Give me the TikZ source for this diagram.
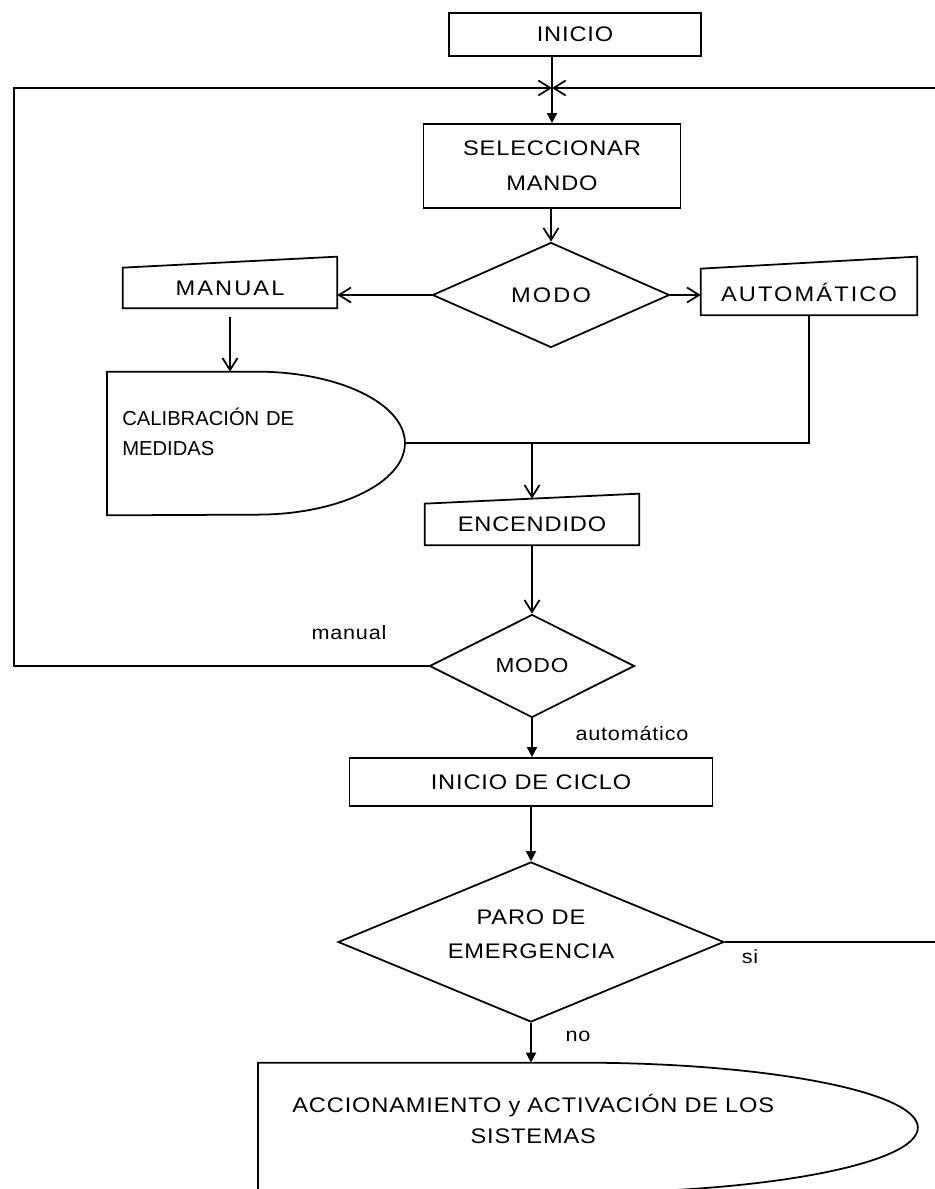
\documentclass[tikz,border=0pt]{standalone}
\usepackage{fontspec}
\setmainfont{Liberation Sans}
\newfontfamily\boxfont[FakeStretch=1.12,LetterSpace=4]{Liberation Sans}
\newfontfamily\widefont[FakeStretch=1.12,LetterSpace=10]{Liberation Sans}
\usetikzlibrary{shapes.geometric,arrows.meta}
\tikzset{
 box/.style={draw,line width=1pt,inner sep=0pt,align=center,font=\boxfont\fontsize{12}{20}\selectfont},
 slantbox/.style={inner sep=0pt,align=center,font=\widefont\fontsize{12}{14}\selectfont},
 decision/.style={diamond,draw,line width=1pt,inner sep=0pt,aspect=2.4,align=center,font=\boxfont\fontsize{12}{19}\selectfont},
 flow/.style={line width=1pt,-{Straight Barb[length=2.4mm,width=3mm]}},
 flowf/.style={line width=1pt,-{Triangle[length=2mm,width=2mm]}},
 tag/.style={font=\boxfont\fontsize{11}{13}\selectfont}
}
\begin{document}
\begin{tikzpicture}[x=0.02cm,y=-0.02cm]
\useasboundingbox (0,0) rectangle (935,1189);
\clip (0,0) rectangle (935,1189);
% boxes and decisions
\node[box,minimum width=5.04cm,minimum height=0.86cm] (inicio) at (575,34.5) {INICIO};
\node[box,minimum width=5.14cm,minimum height=1.68cm] (selec) at (552,166) {SELECCIONAR\\MANDO};
\node[decision,minimum width=4.74cm,minimum height=2.1cm,font=\widefont\fontsize{12}{14}\selectfont] (modoA) at (551,295) {MODO};
\node[slantbox,minimum width=4.28cm,minimum height=0.8cm] (manual) at (230,288) {MANUAL};
\node[slantbox,minimum width=4.32cm,minimum height=0.92cm] (auto) at (809,292) {AUTOMÁTICO};
\node[inner xsep=0.3cm,inner ysep=0pt,text width=4cm,align=left,minimum height=2.86cm,anchor=west,
 font=\fontsize{11.5}{17}\selectfont] (calib) at (107,443.5) {CALIBRACIÓN DE\\MEDIDAS\\[-4pt]\mbox{}};
\node[slantbox,font=\boxfont\fontsize{12}{14}\selectfont,minimum width=4.28cm,minimum height=0.82cm] (encend) at (532,524.5) {ENCENDIDO};
\node[decision,minimum width=4.1cm,minimum height=2.06cm,font=\boxfont\fontsize{11.5}{14}\selectfont] (modoB) at (532,666) {MODO};
\node[box,minimum width=7.26cm,minimum height=0.96cm] (inicioc) at (531,782) {INICIO DE CICLO};
\node[decision,minimum width=7.72cm,minimum height=3.2cm] (paro) at (531,942) {PARO DE\\EMERGENCIA\\[-10pt]\mbox{}};
\node[inner sep=0pt,text width=11cm,align=center,minimum height=2.6cm,anchor=west,
 font=\boxfont\fontsize{12}{17.6}\selectfont] (accion) at (258,1128) {ACCIONAMIENTO y ACTIVACIÓN DE LOS\\SISTEMAS\\[-7.6pt]\mbox{}};
% outlines of the special shapes
\foreach \n/\r in {manual/0.22,auto/0.24,encend/0.2}
 \draw[line width=1pt] (\n.south west) -- (\n.south east) -- ([yshift=\r cm]\n.north east) -- (\n.north west) -- cycle;
\draw[line width=1pt] (calib.south west) -- (calib.north west) -- ++(3cm,0)
 arc[start angle=90,end angle=0,x radius=2.96cm,y radius=1.43cm] coordinate (calib-r)
 arc[start angle=0,end angle=-90,x radius=2.96cm,y radius=1.43cm] -- cycle;
\draw[line width=1pt] (accion.south west) -- (accion.north west) -- ++(6.44cm,0)
 arc[start angle=90,end angle=-90,x radius=6.76cm,y radius=1.3cm] -- cycle;
% labels
\node[tag] (lmanual) at (349,633) {manual};
\node[tag] (lauto) at (632,733) {automático};
\node[tag] (lsi) at (750,957) {si};
\node[tag] (lno) at (578,1036) {no};
% connectors
\coordinate (jn) at (selec.north |- 0,88);
\coordinate (edgeL) at (14,666);
\coordinate (edgeR) at (960,942);
\draw[flowf] (selec.north |- inicio.south) -- (selec.north);
\draw[flow] (modoB.west) -- (edgeL) |- (jn);
\draw[flow] (paro.east) -- (edgeR) |- (jn);
\draw[flow] (selec.south -| modoA.north) -- (modoA.north);
\draw[flow] (modoA.west) -- (modoA.west -| manual.east);
\draw[flow] (modoA.east) -- (modoA.east -| auto.west);
\draw[flow] ([yshift=-0.18cm]manual.south) -- (manual.south |- calib.north);
\draw[line width=1pt] (calib-r) -| (auto.south);
\coordinate (j1) at (calib-r -| encend.north);
\draw[flow] (j1) -- ([yshift=0.1cm]encend.north);
\draw[flow] (encend.south) -- (modoB.north);
\draw[flowf] (modoB.south) -- (modoB.south |- inicioc.north);
\draw[flowf] (inicioc.south -| paro.north) -- (paro.north);
\draw[flowf] (paro.south) -- (paro.south |- accion.north);
\end{tikzpicture}
\end{document}
